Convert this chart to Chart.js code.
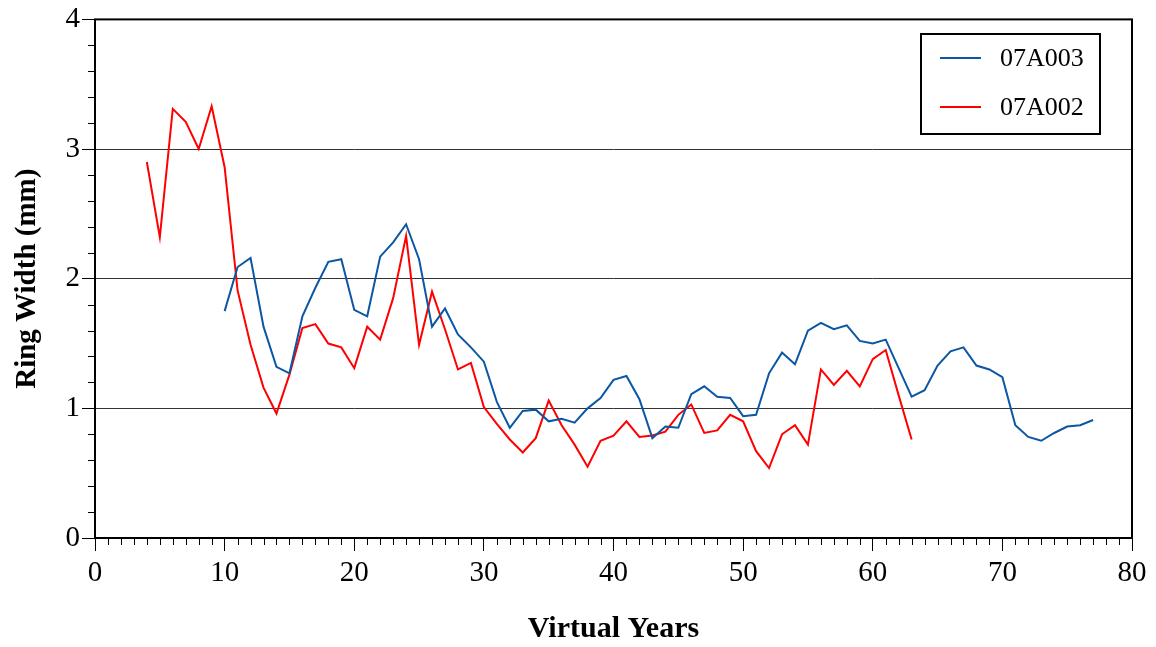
<!DOCTYPE html>
<html>
<head>
<meta charset="utf-8">
<script src="https://cdn.jsdelivr.net/npm/chart.js@4/dist/chart.umd.min.js"></script>
<style>
  html, body { margin: 0; padding: 0; background: #fff; }
  #wrap { width: 1156px; height: 647px; }
</style>
</head>
<body>
<div id="wrap"><canvas id="ring-chart" width="1156" height="647"></canvas></div>
<script>
// 07A003 (blue)
var yearsA003 = [10, 11, 12, 13, 14, 15, 16, 17, 18, 19, 20, 21, 22, 23, 24, 25, 26, 27, 28, 29,
  30, 31, 32, 33, 34, 35, 36, 37, 38, 39, 40, 41, 42, 43, 44, 45, 46, 47, 48, 49,
  50, 51, 52, 53, 54, 55, 56, 57, 58, 59, 60, 61, 62, 63, 64, 65, 66, 67, 68, 69,
  70, 71, 72, 73, 74, 75, 76, 77];
var widthA003 = [1.75, 2.09, 2.16, 1.63, 1.32, 1.27, 1.71, 1.93, 2.13, 2.15, 1.76, 1.71, 2.17, 2.28, 2.42, 2.15, 1.63, 1.77, 1.57, 1.47,
  1.36, 1.05, 0.85, 0.98, 0.99, 0.90, 0.92, 0.89, 1.00, 1.08, 1.22, 1.25, 1.07, 0.77, 0.86, 0.85, 1.11, 1.17, 1.09, 1.08,
  0.94, 0.95, 1.27, 1.43, 1.34, 1.60, 1.66, 1.61, 1.64, 1.52, 1.50, 1.53, 1.31, 1.09, 1.14, 1.33, 1.44, 1.47, 1.33, 1.30,
  1.24, 0.87, 0.78, 0.75, 0.81, 0.86, 0.87, 0.91];

// 07A002 (red)
var yearsA002 = [4, 5, 6, 7, 8, 9, 10, 11, 12, 13, 14, 15, 16, 17, 18, 19, 20, 21, 22, 23,
  24, 25, 26, 27, 28, 29, 30, 31, 32, 33, 34, 35, 36, 37, 38, 39, 40, 41, 42, 43,
  44, 45, 46, 47, 48, 49, 50, 51, 52, 53, 54, 55, 56, 57, 58, 59, 60, 61, 62, 63];
var widthA002 = [2.90, 2.32, 3.31, 3.21, 3.00, 3.33, 2.86, 1.91, 1.49, 1.16, 0.96, 1.26, 1.62, 1.65, 1.50, 1.47, 1.31, 1.63, 1.53, 1.85,
  2.33, 1.49, 1.90, 1.61, 1.30, 1.35, 1.01, 0.88, 0.76, 0.66, 0.77, 1.06, 0.87, 0.72, 0.55, 0.75, 0.79, 0.90, 0.78, 0.79,
  0.82, 0.95, 1.03, 0.81, 0.83, 0.95, 0.90, 0.67, 0.54, 0.80, 0.87, 0.72, 1.30, 1.18, 1.29, 1.17, 1.38, 1.45, 1.10, 0.76];

var xTicks = [0, 10, 20, 30, 40, 50, 60, 70, 80];
var yTicks = [0, 1, 2, 3, 4];

function pairs(xs, ys) {
  return xs.map(function (x, i) { return { x: x, y: ys[i] }; });
}

var serif = "'Liberation Serif', 'Times New Roman', serif";

// minor ticks, frame and boxed legend
var extras = {
  id: 'extras',
  afterDraw: function (chart) {
    var ctx = chart.ctx, a = chart.chartArea;
    var xs = chart.scales.x, ys = chart.scales.y;
    ctx.save();
    ctx.strokeStyle = '#000';
    ctx.lineWidth = 1;
    ctx.beginPath();
    for (var i = 0; i <= 80; i++) {
      if (i % 10 === 0) continue;
      var px = Math.round(xs.getPixelForValue(i)) + 0.5;
      ctx.moveTo(px, a.bottom);
      ctx.lineTo(px, a.bottom + 7);
    }
    for (var j = 0; j <= 20; j++) {
      if (j % 5 === 0) continue;
      var py = Math.round(ys.getPixelForValue(j * 0.2)) + 0.5;
      ctx.moveTo(a.left, py);
      ctx.lineTo(a.left - 7, py);
    }
    ctx.stroke();

    ctx.lineWidth = 2;
    ctx.strokeRect(a.left, a.top, a.right - a.left, a.bottom - a.top);

    // legend
    var bx = 921, by = 34, bw = 179, bh = 100;
    ctx.fillStyle = '#fff';
    ctx.fillRect(bx, by, bw, bh);
    ctx.strokeRect(bx, by, bw, bh);
    ctx.font = '26px ' + serif;
    ctx.textBaseline = 'middle';
    chart.data.datasets.forEach(function (ds, k) {
      var ly = by + 24 + k * 49;
      ctx.strokeStyle = ds.borderColor;
      ctx.lineWidth = 2;
      ctx.beginPath();
      ctx.moveTo(bx + 19, ly);
      ctx.lineTo(bx + 60, ly);
      ctx.stroke();
      ctx.fillStyle = '#000';
      ctx.fillText(ds.label, bx + 79, ly + 1);
    });
    ctx.restore();
  }
};

new Chart(document.getElementById('ring-chart'), {
  type: 'line',
  data: {
    datasets: [
      {
        label: '07A003',
        data: pairs(yearsA003, widthA003),
        borderColor: '#0b57a4',
        borderWidth: 2,
        pointRadius: 0,
        tension: 0
      },
      {
        label: '07A002',
        data: pairs(yearsA002, widthA002),
        borderColor: '#ff0000',
        borderWidth: 2,
        pointRadius: 0,
        tension: 0
      }
    ]
  },
  options: {
    responsive: false,
    animation: false,
    events: [],
    layout: { padding: { left: 0, right: 24, top: 17, bottom: 0 } },
    plugins: {
      legend: { display: false },
      tooltip: { enabled: false }
    },
    scales: {
      x: {
        type: 'linear',
        min: 0,
        max: 80,
        afterBuildTicks: function (s) { s.ticks = xTicks.map(function (v) { return { value: v }; }); },
        afterFit: function (s) { s.height = 109; },
        grid: { drawOnChartArea: false, tickLength: 13, tickColor: '#000', tickWidth: 1 },
        border: { display: false },
        ticks: { color: '#000', font: { family: serif, size: 29 }, padding: 5, maxRotation: 0, autoSkip: false },
        title: { display: true, text: 'Virtual Years', color: '#000', font: { family: serif, size: 30, weight: 'bold' }, padding: { top: 0, bottom: 0 } }
      },
      y: {
        min: 0,
        max: 4,
        afterBuildTicks: function (s) { s.ticks = yTicks.map(function (v) { return { value: v }; }); },
        afterFit: function (s) { s.width = 95; },
        grid: {
          color: function (c) { return (c.tick && (c.tick.value === 0 || c.tick.value === 4)) ? 'rgba(0,0,0,0)' : '#333'; },
          lineWidth: 1,
          tickLength: 13,
          tickColor: '#000',
          tickWidth: 1
        },
        border: { display: false },
        ticks: { color: '#000', font: { family: serif, size: 29 }, padding: 2 },
        title: { display: true, text: 'Ring Width (mm)', color: '#000', font: { family: serif, size: 29, weight: 'bold' }, padding: { top: 10, bottom: 0 } }
      }
    }
  },
  plugins: [extras]
});
</script>
</body>
</html>
